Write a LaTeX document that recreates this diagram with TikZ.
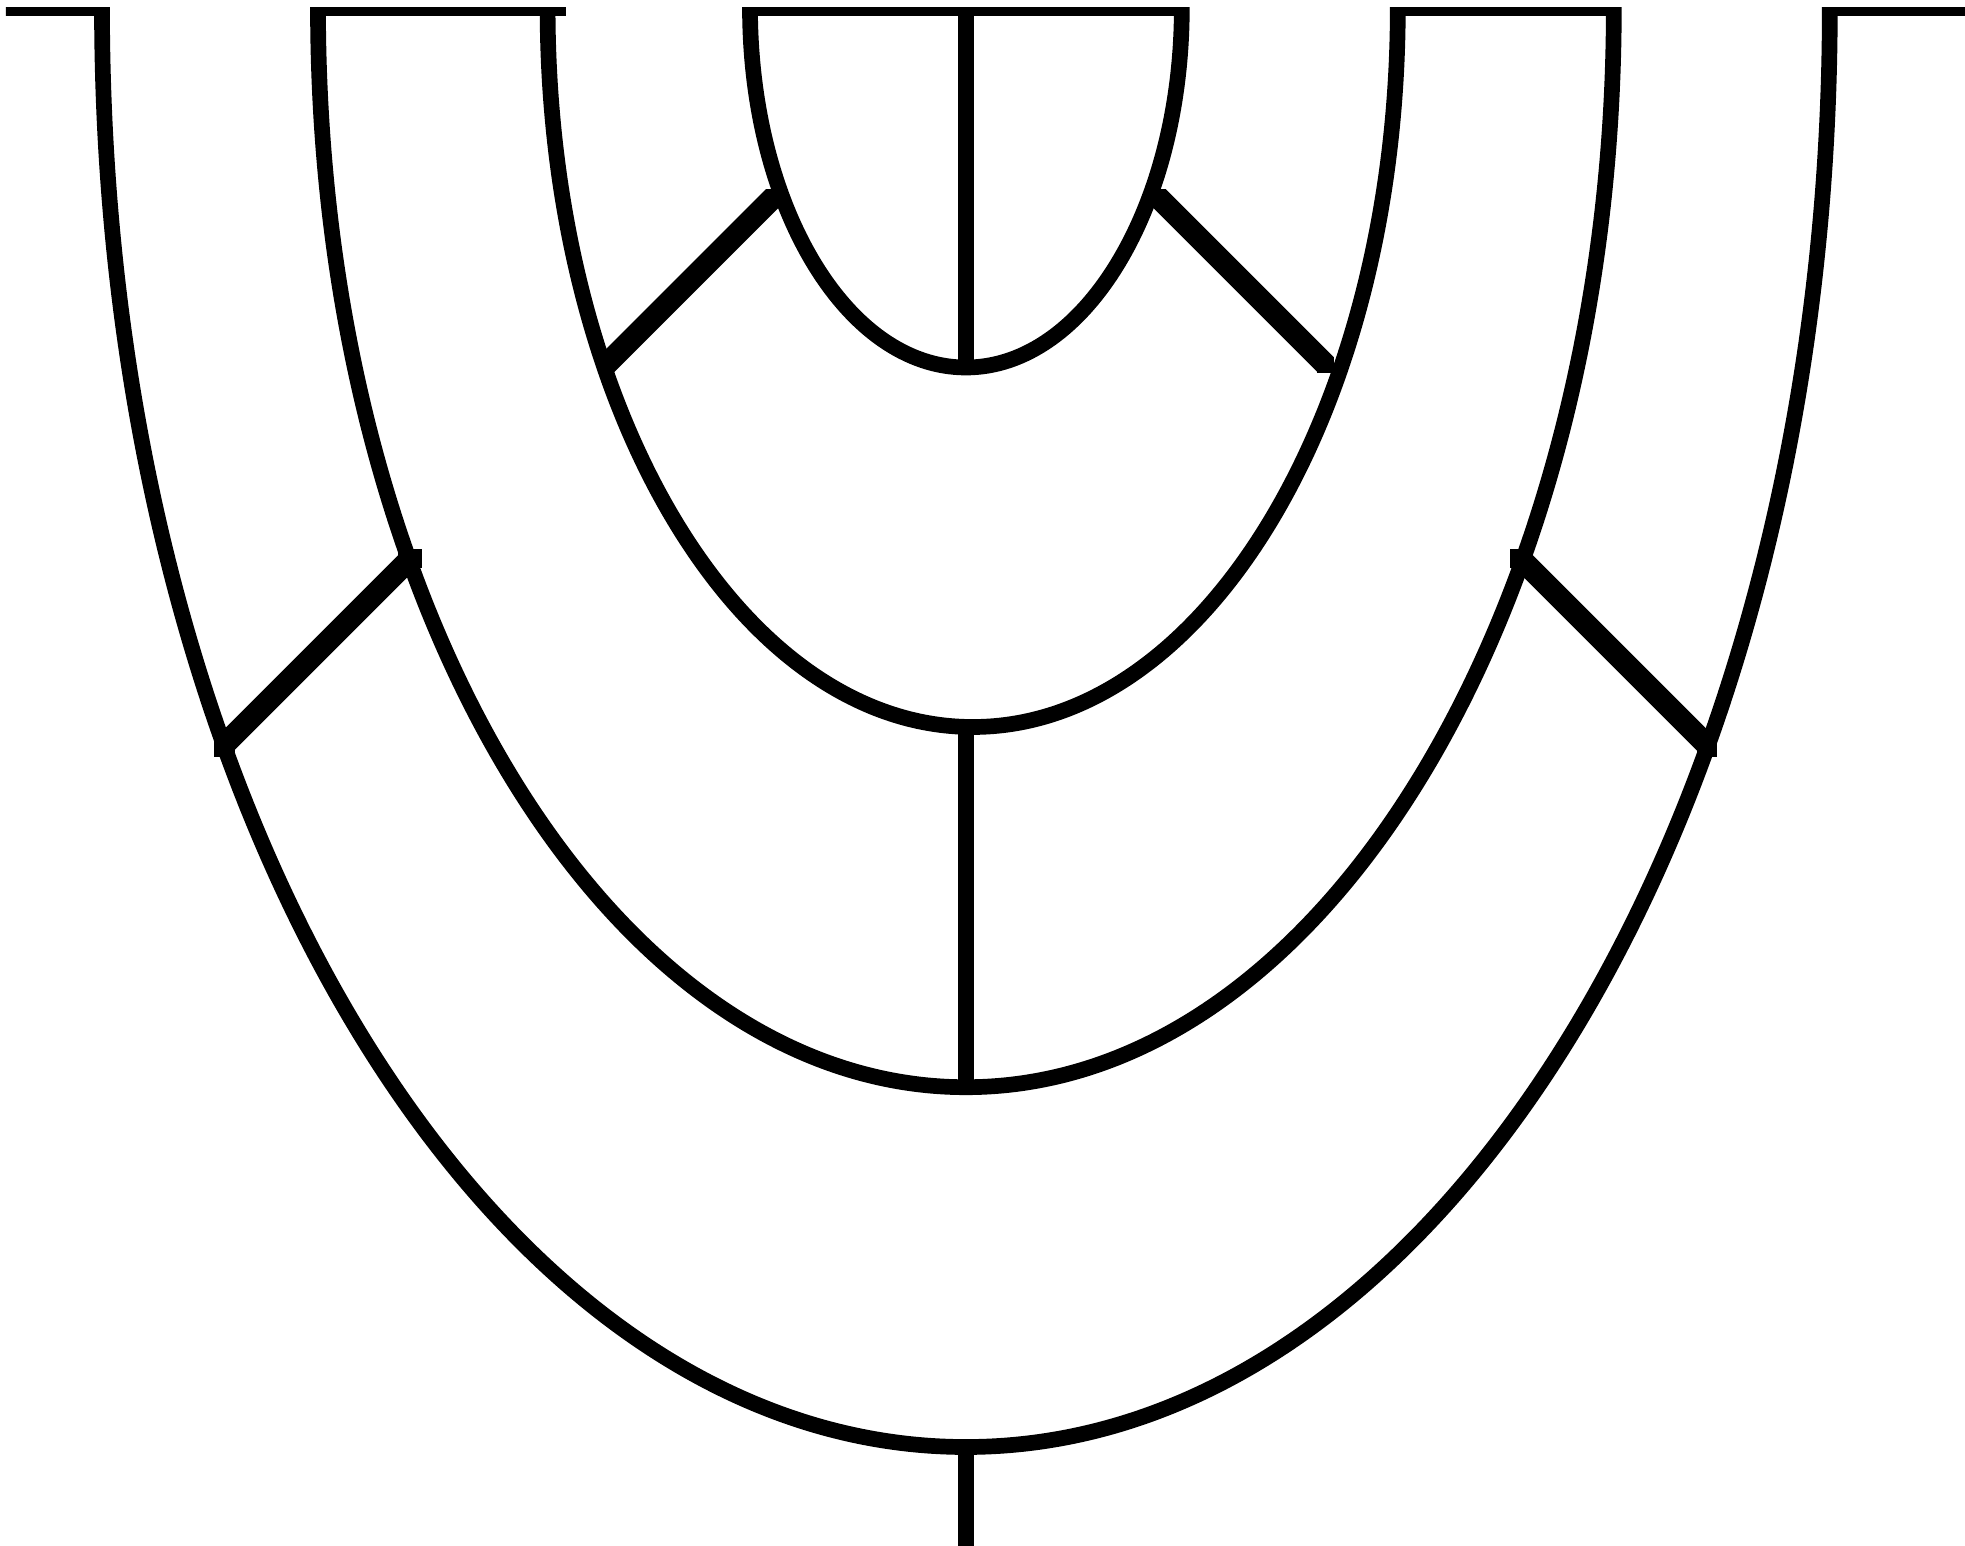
\documentclass[tikz,border=0pt]{standalone}
\begin{document}
\begin{tikzpicture}[x=1pt,y=1pt,
  wire/.style={draw=black,line width=15.7pt,line join=miter,line cap=butt},
  rung/.style={draw=black,line width=22pt,line cap=butt},
  knot/.style={fill=black}]
\useasboundingbox (0,0) rectangle (1965,-1546);
\clip (0,-8) rectangle (1965,-1546);
% named points
\coordinate (L0) at (5.9,-8);
\coordinate (A1) at (102,-8);
\coordinate (R0) at (1965,-8);
\coordinate (E2) at (565.8,-8);
\coordinate (A2) at (318,-8);
\coordinate (B3) at (1397.8,-8);
\coordinate (A4) at (750,-8);
\coordinate (B4) at (1181.8,-8);
\coordinate (V0) at (965.9,-8);
\coordinate (V1) at (965.9,-367.5);
\coordinate (V2) at (965.9,-727);
\coordinate (V3) at (965.9,-1087.2);
\coordinate (V4) at (965.9,-1447);
\coordinate (V5) at (965.9,-1546);
% outer curve
\draw[wire] (L0) -- (A1) arc[start angle=180,end angle=360,x radius=863.9pt,y radius=1439pt] -- (R0);
% second and third curves
\draw[wire] (E2) -- (A2) arc[start angle=180,end angle=360,x radius=647.9pt,y radius=1079.2pt] -- (B3)
  arc[start angle=0,end angle=-180,x radius=425.1pt,y radius=719pt];
% inner closed cup
\draw[wire] (A4) -- (B4) arc[start angle=0,end angle=-180,x radius=215.9pt,y radius=359.5pt] -- cycle;
% vertical lines
\draw[wire] (V0) -- (V1);
\draw[wire] (V2) -- (V3);
\draw[wire] (V4) -- (V5);
% diagonals
\coordinate (d1a) at (773.7,-197);  \coordinate (d1b) at (605.7,-365);
\coordinate (d2a) at (1158,-197);   \coordinate (d2b) at (1326,-365);
\coordinate (d3a) at (410,-559);    \coordinate (d3b) at (225,-744);
\coordinate (d4a) at (1521,-559);   \coordinate (d4b) at (1706,-744);
\draw[rung] (d1a) -- (d1b);
\draw[rung] (d2a) -- (d2b);
\draw[rung] (d3a) -- (d3b);
\draw[rung] (d4a) -- (d4b);
% end squares
\path[knot] (765.7,-189.3) rectangle (782.4,-205.3);
\path[knot] (597.7,-357.3) rectangle (614.4,-373.3);
\path[knot] (1149.3,-189.3) rectangle (1166,-205.3);
\path[knot] (1317.3,-357.3) rectangle (1334,-373.3);
\path[knot] (398,-549.3) rectangle (421.7,-568.3);
\path[knot] (214.3,-731.7) rectangle (235,-757.3);
\path[knot] (1510,-549.3) rectangle (1531.7,-568.3);
\path[knot] (1696.7,-731.7) rectangle (1717.4,-757.3);
\end{tikzpicture}
\end{document}
